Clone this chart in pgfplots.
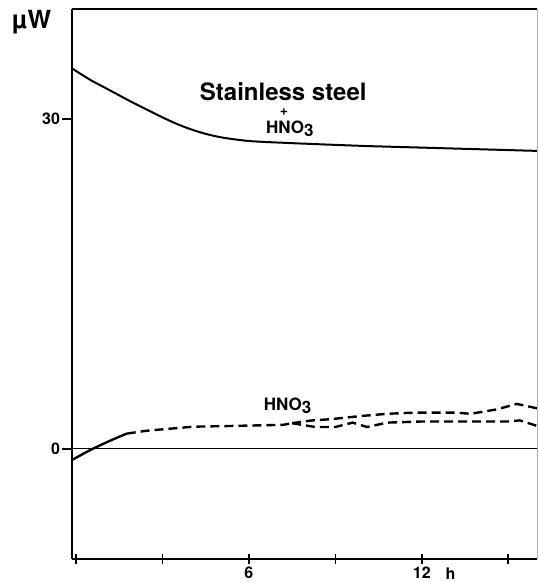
\documentclass[border=0pt]{standalone}
\usepackage{pgfplots}
\pgfplotsset{compat=1.18}
\usepackage{fontspec}
\setmainfont{TeX Gyre Heros}
\begin{document}
\begin{tikzpicture}
\useasboundingbox (-36pt,-11.5pt) rectangle (233pt,279.5pt);
\begin{axis}[
  scale only axis, width=232.5pt, height=275pt,
  xmin=-0.14, xmax=16, ymin=-10, ymax=40,
  clip=false,
  axis line style={draw=none},
  xtick={0,3,6,9,12,15}, xticklabels={,,6,,12,},
  ytick={0,30}, yticklabels={0,30},
  xtick pos=bottom, ytick pos=left,
  tick align=center, major tick length=5pt,
  tick style={black, line width=0.8pt},
  ytick style={xshift=-2.5pt},
  ticklabel style={font=\bfseries\fontsize{8}{9}\selectfont},
  xticklabel style={yshift=2pt},
]
% solid curve: stainless steel + HNO3
\addplot[black, line width=1pt, smooth] coordinates {
 (-0.14,34.6) (0.5,33.55) (1.0,32.85) (1.5,32.15) (2.0,31.45) (2.5,30.8) (3.0,30.15)
 (3.5,29.55) (4.0,29.05) (4.5,28.65) (5.0,28.35) (5.5,28.15) (6.0,28.0) (6.5,27.92)
 (7.0,27.86) (8.0,27.75) (10.0,27.55) (12.0,27.4) (14.0,27.25) (16.0,27.1)};
% HNO3 initial solid part
\addplot[black, line width=1.2pt, smooth] coordinates {
 (-0.14,-1.0) (0.49,-0.1) (1.18,0.75) (1.76,1.4)};
% HNO3 dashed common part
\addplot[black, line width=1.2pt, dash pattern=on 4.5pt off 2.5pt] coordinates {
 (1.76,1.4) (2.45,1.66) (4.07,2.03) (5.5,2.1) (7.2,2.2) (7.5,2.35)};
% upper branch
\addplot[black, line width=1.2pt, dash pattern=on 4.5pt off 2.5pt] coordinates {
 (7.5,2.35) (8.2,2.6) (8.8,2.7) (9.9,3.0) (10.8,3.2) (11.7,3.3) (13.2,3.3) (13.7,3.2)
 (14.6,3.6) (15.3,4.1) (16.0,3.7)};
% lower branch
\addplot[black, line width=1.2pt, dash pattern=on 4.5pt off 2.5pt] coordinates {
 (7.5,2.35) (8.3,2.0) (9.0,2.0) (9.6,2.4) (10.1,2.0) (10.8,2.4) (12.0,2.5) (13.5,2.5)
 (15.0,2.5) (15.4,2.6) (16.0,2.1)};
% zero line
\addplot[black, line width=0.5pt] coordinates {(-0.14,0) (16,0)};
% frame
\draw[black, line width=1pt] (rel axis cs:0,0) -- (rel axis cs:0,1);
\draw[black, line width=0.6pt] (rel axis cs:0,0) -- (rel axis cs:1,0);
\draw[black, line width=0.6pt] (rel axis cs:0,1) -- (rel axis cs:1,1);
\draw[gray!60, line width=0.4pt] (rel axis cs:1,0) -- (rel axis cs:1,1);
% annotations
\node[inner sep=0pt, font=\bfseries\fontsize{12}{13}\selectfont] at (axis cs:7.19,32.5) {Stainless steel};
\node[inner sep=0pt, font=\bfseries\fontsize{7}{7}\selectfont] at (axis cs:7.22,30.6) {+};
\node[inner sep=0pt, font=\bfseries\fontsize{8.5}{10}\selectfont] at (axis cs:7.42,29.1) {HNO\raisebox{-0.35ex}{3}};
\node[inner sep=0pt, font=\bfseries\fontsize{8.5}{10}\selectfont] at (axis cs:7.34,3.9) {HNO\raisebox{-0.35ex}{3}};
\node[inner sep=0pt, font=\bfseries\fontsize{8}{9}\selectfont] at (axis cs:13.0,-11.3) {h};
\node[inner sep=0pt, font=\bfseries\fontsize{12.5}{14}\selectfont] at (axis description cs:-0.0867,0.977) {µW};
\end{axis}
\end{tikzpicture}
\end{document}
